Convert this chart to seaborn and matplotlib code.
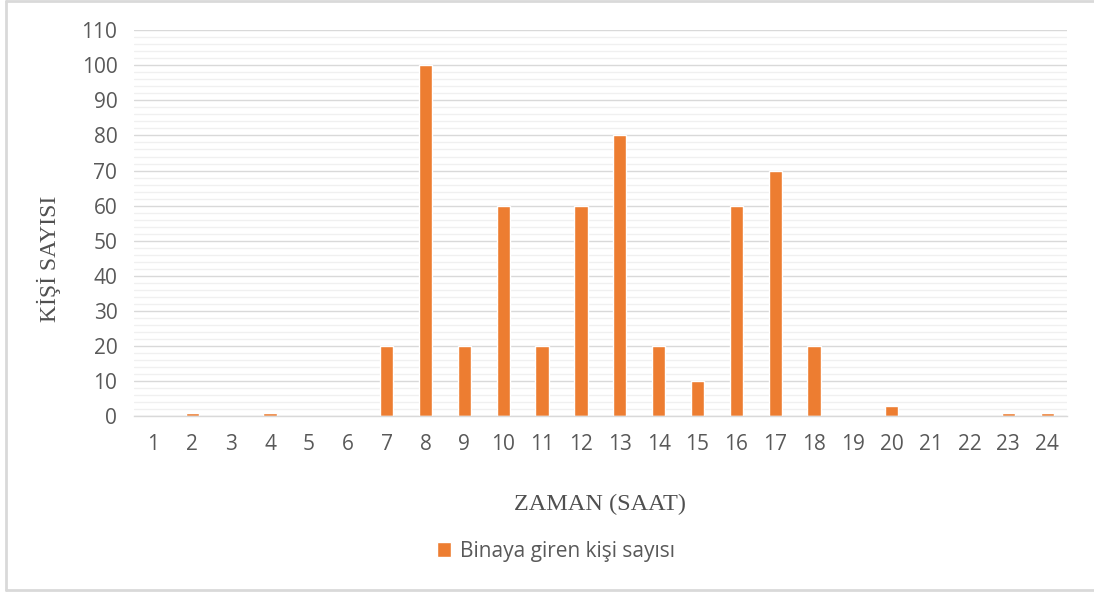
import matplotlib
matplotlib.use("Agg")
import matplotlib.pyplot as plt
from matplotlib.lines import Line2D
from matplotlib.ticker import MultipleLocator
import pandas as pd
import seaborn as sns

hours = [str(h) for h in range(1, 25)]
people = [0, 1, 0, 1, 0, 0, 20, 100, 20, 60, 20, 60, 80, 20, 10, 60, 70, 20, 0, 3, 0, 0, 1, 1]
series_name = "Binaya giren kişi sayısı"
x_label = "ZAMAN (SAAT)"
y_label = "KİŞİ SAYISI"

df = pd.DataFrame({"saat": hours, "kisi": people, "seri": series_name})

sns.set_theme(style="white")
plt.rcParams["font.family"] = ["Open Sans", "DejaVu Sans"]

fig = plt.figure(figsize=(10.94, 5.92), dpi=100)
ax = fig.add_axes([0.1225, 0.297, 0.8525, 0.652])

sns.barplot(data=df, x="saat", y="kisi", hue="seri", palette=["#ED7D31"],
            width=0.34, ax=ax, legend=True, saturation=1)

ax.set_ylim(0, 110)
ax.set_xlim(-0.5, len(hours) - 0.5)
ax.yaxis.set_major_locator(MultipleLocator(10))
ax.yaxis.set_minor_locator(MultipleLocator(2))
ax.grid(True, which="major", axis="y", color="#D9D9D9", linewidth=1.0)
ax.grid(True, which="minor", axis="y", color="#F0F0F0", linewidth=1.0)
ax.set_axisbelow(True)
for side in ["top", "right", "left"]:
    ax.spines[side].set_visible(False)
ax.spines["bottom"].set_color("#D9D9D9")
ax.spines["bottom"].set_linewidth(1.0)

ax.tick_params(axis="both", which="both", length=0, labelsize=15, colors="#595959")
ax.tick_params(axis="x", pad=13)
ax.tick_params(axis="y", pad=12)

ax.set_xlabel(x_label, family="Liberation Serif", fontsize=17.5, color="#505050", labelpad=28)
ax.set_ylabel(y_label, family="Liberation Serif", fontsize=17, color="#505050")
ax.yaxis.set_label_coords(-0.078, 0.407)

leg = ax.legend(loc="center", bbox_to_anchor=(0.508, 0.069), bbox_transform=fig.transFigure,
                frameon=False, fontsize=15, handlelength=0.7, handleheight=0.7,
                handletextpad=0.4)
for t in leg.get_texts():
    t.set_color("#595959")

# chart frame: top, left and bottom edges
frame = dict(transform=fig.transFigure, color="#D9D9D9", linewidth=2.0)
fig.add_artist(Line2D([0.0055, 1.0], [0.998, 0.998], **frame))
fig.add_artist(Line2D([0.0055, 0.0055], [0.003, 0.998], **frame))
fig.add_artist(Line2D([0.0055, 1.0], [0.004, 0.004], **frame))

fig.savefig("out.png", dpi=100)
